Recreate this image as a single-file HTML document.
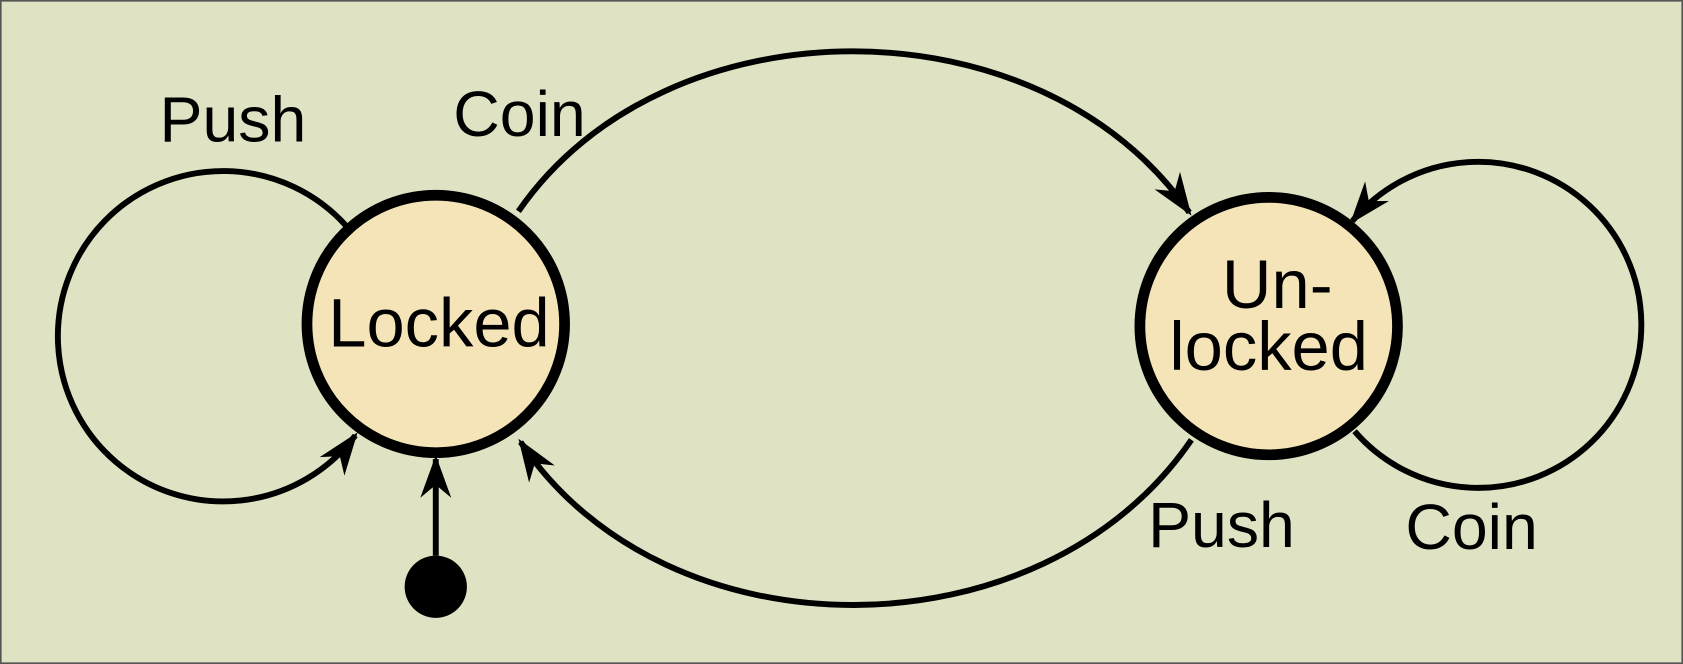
<!DOCTYPE html>
<html><head><style>
html,body{margin:0;padding:0;background:#e0e3c3;}
svg{display:block;}
text{font-family:"Liberation Sans",sans-serif;fill:#000;}
</style></head><body>
<svg width="1683" height="664" viewBox="0 0 1568 619" preserveAspectRatio="none" xmlns="http://www.w3.org/2000/svg">
<defs>
<marker id="a" markerUnits="userSpaceOnUse" markerWidth="60" markerHeight="60" refX="0" refY="0" viewBox="-40 -20 50 40" orient="auto">
<path d="M3,0 L-30,-12 L-20,0 L-30,12 Z" fill="#000"/>
</marker>
</defs>
<rect x="0" y="0" width="1568" height="619" fill="#e0e3c3"/>
<rect x="0.5" y="0.5" width="1567" height="618" fill="none" stroke="#555" stroke-width="2"/>
<g fill="none" stroke="#000" stroke-width="5.5">
<path d="M322,210 A154,154 0 1 0 331,406" marker-end="url(#a)"/>
<path d="M1262,402 A152,152 0 1 0 1260,206" marker-end="url(#a)"/>
<path d="M483,197 C620,-2 970,-2 1108,198" marker-end="url(#a)"/>
<path d="M1110,410 C970,615 620,615 485,412" marker-end="url(#a)"/>
<path d="M406,518 L406,428" marker-end="url(#a)"/>
</g>
<circle cx="406" cy="547" r="29" fill="#000"/>
<circle cx="406" cy="302" r="120" fill="#f4e4b8" stroke="#000" stroke-width="10"/>
<circle cx="1182" cy="304" r="120" fill="#f4e4b8" stroke="#000" stroke-width="10"/>
<text x="217" y="132" font-size="60" text-anchor="middle">Push</text>
<text x="484" y="127" font-size="60" text-anchor="middle">Coin</text>
<text x="409" y="323" font-size="64" text-anchor="middle">Locked</text>
<text x="1190" y="287" font-size="64" text-anchor="middle">Un-</text>
<text x="1182" y="345" font-size="64" text-anchor="middle">locked</text>
<text x="1138" y="510" font-size="60" text-anchor="middle">Push</text>
<text x="1371" y="512" font-size="60" text-anchor="middle">Coin</text>
</svg>
</body></html>
